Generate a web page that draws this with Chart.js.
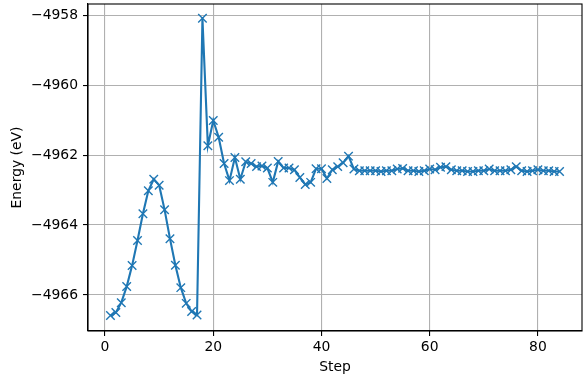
<!DOCTYPE html>
<html>
<head>
<meta charset="utf-8">
<script src="https://cdn.jsdelivr.net/npm/chart.js@4"></script>
<style>
  html, body { margin: 0; padding: 0; background: #fff; }
  #wrap { width: 586px; height: 386px; }
</style>
</head>
<body>
<div id="wrap"><canvas id="chart-energy" width="586" height="386"></canvas></div>
<script>
// dados do grafico
var steps = [
   1, 2, 3, 4, 5, 6, 7, 8, 9, 10, 11, 12, 13, 14, 15, 16, 17, 18, 19, 20, 21,
   22, 23, 24, 25, 26, 27, 28, 29, 30, 31, 32, 33, 34, 35, 36, 37, 38, 39, 40, 41, 42,
   43, 44, 45, 46, 47, 48, 49, 50, 51, 52, 53, 54, 55, 56, 57, 58, 59, 60, 61, 62, 63,
   64, 65, 66, 67, 68, 69, 70, 71, 72, 73, 74, 75, 76, 77, 78, 79, 80, 81, 82, 83, 84
];
var energy = [
   -4966.59, -4966.50, -4966.22, -4965.76, -4965.16, -4964.44, -4963.68, -4963.02, -4962.69, -4962.86,
   -4963.56, -4964.39, -4965.15, -4965.79, -4966.24, -4966.47, -4966.57, -4958.09, -4961.73, -4961.01,
   -4961.49, -4962.24, -4962.73, -4962.07, -4962.69, -4962.19, -4962.24, -4962.33, -4962.31, -4962.37,
   -4962.78, -4962.18, -4962.37, -4962.37, -4962.42, -4962.64, -4962.84, -4962.78, -4962.39, -4962.39,
   -4962.67, -4962.42, -4962.33, -4962.22, -4962.03, -4962.40, -4962.45, -4962.45, -4962.45, -4962.45,
   -4962.47, -4962.45, -4962.45, -4962.40, -4962.38, -4962.45, -4962.45, -4962.47, -4962.45, -4962.40,
   -4962.42, -4962.35, -4962.33, -4962.42, -4962.45, -4962.45, -4962.47, -4962.47, -4962.45, -4962.45,
   -4962.40, -4962.45, -4962.45, -4962.45, -4962.42, -4962.33, -4962.45, -4962.47, -4962.45, -4962.42,
   -4962.45, -4962.45, -4962.47, -4962.47
];
var xTicks = [0, 20, 40, 60, 80];
var yTicks = [-4966, -4964, -4962, -4960, -4958];

var fonte = { family: "DejaVu Sans", size: 13.9 };

// moldura dos eixos (spines)
var moldura = {
   id: "moldura",
   afterDatasetsDraw: function (chart) {
      var a = chart.chartArea;
      var ctx = chart.ctx;
      ctx.save();
      ctx.strokeStyle = "#000";
      ctx.lineWidth = 1.1;
      ctx.strokeRect(a.left, a.top, a.right - a.left, a.bottom - a.top);
      ctx.restore();
   }
};

var pontos = steps.map(function (s, i) { return { x: s, y: energy[i] }; });

const ctxEnergy = document.getElementById("chart-energy");
new Chart(ctxEnergy, {
   type: "line",
   data: {
      datasets: [
         {
            label: "Energy",
            data: pontos,
            borderColor: "#1f77b4",
            backgroundColor: "#1f77b4",
            borderWidth: 2.1,
            tension: 0,
            pointStyle: "crossRot",
            pointRadius: 6,
            pointBorderWidth: 1.4,
            pointBorderColor: "#1f77b4",
            pointHoverRadius: 6,
         },
      ],
   },
   options: {
      responsive: false,
      animation: false,
      events: [],
      layout: {
         autoPadding: false,
         padding: { left: 0, top: 4, right: 4, bottom: 0 },
      },
      plugins: {
         legend: { display: false },
         tooltip: { enabled: false },
      },
      scales: {
         x: {
            type: "linear",
            min: -3.15,
            max: 88.15,
            afterBuildTicks: function (scale) {
               scale.ticks = xTicks.map(function (v) { return { value: v }; });
            },
            afterFit: function (scale) {
               scale.height = 55;
               scale.paddingLeft = 0;
               scale.paddingRight = 0;
            },
            grid: {
               color: "#b0b0b0",
               lineWidth: 1.1,
               tickColor: "#000",
               tickLength: 5,
               tickWidth: 1.1,
            },
            border: { color: "#000", width: 1.1 },
            ticks: {
               color: "#000",
               font: fonte,
               padding: 3,
               maxRotation: 0,
               callback: function (v) { return String(v); },
            },
            title: {
               display: true,
               text: "Step",
               color: "#000",
               font: fonte,
               padding: { top: 0, bottom: 10 },
            },
         },
         y: {
            type: "linear",
            min: -4967.03,
            max: -4957.68,
            afterBuildTicks: function (scale) {
               scale.ticks = yTicks.map(function (v) { return { value: v }; });
            },
            afterFit: function (scale) {
               scale.width = 88;
               scale.paddingTop = 0;
               scale.paddingBottom = 0;
            },
            grid: {
               color: "#b0b0b0",
               lineWidth: 1.1,
               tickColor: "#000",
               tickLength: 5,
               tickWidth: 1.1,
            },
            border: { color: "#000", width: 1.1 },
            ticks: {
               color: "#000",
               font: fonte,
               padding: 5,
               callback: function (v) { return (v < 0 ? "\u2212" : "") + Math.abs(v); },
            },
            title: {
               display: true,
               text: "Energy (eV)",
               color: "#000",
               font: fonte,
               padding: { top: 9, bottom: 0 },
            },
         },
      },
   },
   plugins: [moldura],
});
</script>
</body>
</html>
